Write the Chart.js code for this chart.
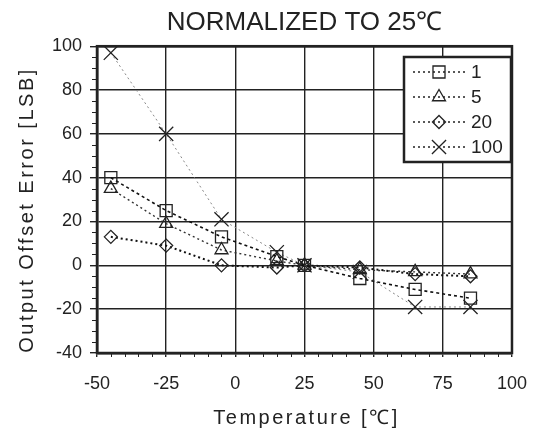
<!DOCTYPE html>
<html>
<head>
<meta charset="utf-8">
<script src="https://cdn.jsdelivr.net/npm/chart.js@4"></script>
<style>
  html, body { margin: 0; padding: 0; background: #fff; }
  #wrap { width: 543px; height: 432px; }
</style>
</head>
<body>
<div id="wrap"><canvas id="myChart"></canvas></div>
<script>
// temperature points (°C) and offset error per series [LSB]
const temps = [-45, -25, -5, 15, 25, 45, 65, 85];
const seriesLabels = ['1', '5', '20', '100'];
const err1 = [40, 25, 13, 4, 0, -6, -11, -15];
const err5 = [35, 19, 7, 2, 0, -2, -3, -4];
const err20 = [13, 9, 0, -1, 0, -1, -4, -5];
const err100 = [97, 60, 21, 6, 0, -3, -19, -19];
const xTicks = [-50, -25, 0, 25, 50, 75, 100];
const yTicks = [-40, -20, 0, 20, 40, 60, 80, 100];

const FONT = "'Liberation Sans', Arial, sans-serif";
const INK = '#222';

function pts(vals) {
  return temps.map((t, i) => ({ x: t, y: vals[i] }));
}

function series(label, vals, style, radius, dash, color, width) {
  return {
    label: label,
    data: pts(vals),
    borderColor: color,
    borderWidth: width,
    borderDash: dash,
    pointStyle: style,
    pointRadius: radius,
    pointBorderColor: INK,
    pointBorderWidth: 1.3,
    pointBackgroundColor: 'rgba(0,0,0,0)',
    backgroundColor: 'rgba(0,0,0,0)',
    tension: 0,
    fill: false
  };
}

const datasets = [
  series(seriesLabels[0], err1, 'rect', 8.5, [3, 3], '#111', 1.6),
  series(seriesLabels[1], err5, 'triangle', 7.5, [2, 3], '#333', 1.4),
  series(seriesLabels[2], err20, 'rectRot', 6.5, [2, 3], '#111', 2),
  series(seriesLabels[3], err100, 'crossRot', 10, [2, 3], '#888', 1)
];

// minor ticks, plot frame, legend box and axis titles
const decoPlugin = {
  id: 'deco',
  beforeDatasetsDraw(chart) {
    const { ctx, chartArea: a, scales: { x, y } } = chart;
    ctx.save();
    ctx.strokeStyle = INK;
    ctx.lineWidth = 1;
    ctx.beginPath();
    for (let v = yTicks[0]; v <= yTicks[yTicks.length - 1]; v += 5) {
      if (v % 20 === 0) continue;
      const py = Math.round(y.getPixelForValue(v)) + 0.5;
      ctx.moveTo(a.left - 5, py);
      ctx.lineTo(a.left, py);
    }
    for (let v = xTicks[0]; v <= xTicks[xTicks.length - 1]; v += 5) {
      if (v % 25 === 0) continue;
      const px = Math.round(x.getPixelForValue(v)) + 0.5;
      ctx.moveTo(px, a.bottom);
      ctx.lineTo(px, a.bottom + 4);
    }
    ctx.stroke();
    ctx.lineWidth = 2.5;
    ctx.strokeRect(a.left, a.top, a.width, a.height);
    ctx.restore();
  },
  afterDraw(chart) {
    const ctx = chart.ctx;
    const a = chart.chartArea;
    ctx.save();

    // legend
    const lg = { left: 404, top: 57, w: 107, h: 105 };
    ctx.fillStyle = '#fff';
    ctx.fillRect(lg.left, lg.top, lg.w, lg.h);
    ctx.strokeStyle = INK;
    ctx.lineWidth = 2.5;
    ctx.strokeRect(lg.left, lg.top, lg.w, lg.h);
    chart.data.datasets.forEach((ds, i) => {
      const cy = lg.top + 15 + i * 25;
      ctx.strokeStyle = INK;
      ctx.lineWidth = 1.5;
      ctx.setLineDash([2, 3]);
      ctx.beginPath();
      ctx.moveTo(lg.left + 9, cy);
      ctx.lineTo(lg.left + 64, cy);
      ctx.stroke();
      ctx.setLineDash([]);
      ctx.lineWidth = 1.3;
      ctx.fillStyle = 'rgba(0,0,0,0)';
      Chart.helpers.drawPoint(ctx, {
        pointStyle: ds.pointStyle,
        radius: ds.pointRadius,
        borderWidth: 1.3,
        rotation: 0
      }, lg.left + 35, cy);
      ctx.fillStyle = INK;
      ctx.font = '19px ' + FONT;
      ctx.textAlign = 'left';
      ctx.textBaseline = 'middle';
      ctx.fillText(ds.label, lg.left + 67, cy + 1);
    });

    // axis titles
    ctx.fillStyle = INK;
    ctx.font = '20px ' + FONT;
    ctx.letterSpacing = '2.5px';
    ctx.textAlign = 'center';
    ctx.textBaseline = 'middle';
    ctx.fillText('Temperature [℃]', (a.left + a.right) / 2 + 2, 418);
    ctx.translate(27, 210);
    ctx.rotate(-Math.PI / 2);
    ctx.fillText('Output Offset Error [LSB]', 0, 0);
    ctx.restore();
  }
};

const ctx = document.getElementById('myChart');
let chart = new Chart(ctx, {
  type: 'line',
  data: { datasets: datasets },
  options: {
    responsive: true,
    maintainAspectRatio: false,
    animation: false,
    layout: { padding: { left: 0, right: 19, top: 0, bottom: 0 } },
    plugins: {
      legend: { display: false },
      tooltip: { enabled: false },
      title: {
        display: true,
        text: 'NORMALIZED TO 25℃',
        fullSize: false,
        color: INK,
        font: { family: FONT, size: 26, weight: 'normal' },
        padding: { top: 7, bottom: 8 }
      }
    },
    scales: {
      x: {
        type: 'linear',
        min: xTicks[0],
        max: xTicks[xTicks.length - 1],
        afterFit: (s) => { s.height = 79; },
        afterBuildTicks: (s) => { s.ticks = xTicks.map(v => ({ value: v })); },
        ticks: {
          color: INK,
          font: { family: FONT, size: 18 },
          padding: 16,
          maxRotation: 0
        },
        grid: { color: INK, lineWidth: 1.4, tickLength: 4, tickColor: INK },
        border: { color: INK, width: 2.5 }
      },
      y: {
        type: 'linear',
        min: yTicks[0],
        max: yTicks[yTicks.length - 1],
        afterFit: (s) => { s.width = 97; },
        afterBuildTicks: (s) => { s.ticks = yTicks.map(v => ({ value: v })); },
        ticks: {
          color: INK,
          font: { family: FONT, size: 18 },
          padding: 8
        },
        grid: { color: INK, lineWidth: 1.4, tickLength: 7, tickColor: INK },
        border: { color: INK, width: 2.5 }
      }
    }
  },
  plugins: [decoPlugin]
});
</script>
</body>
</html>
